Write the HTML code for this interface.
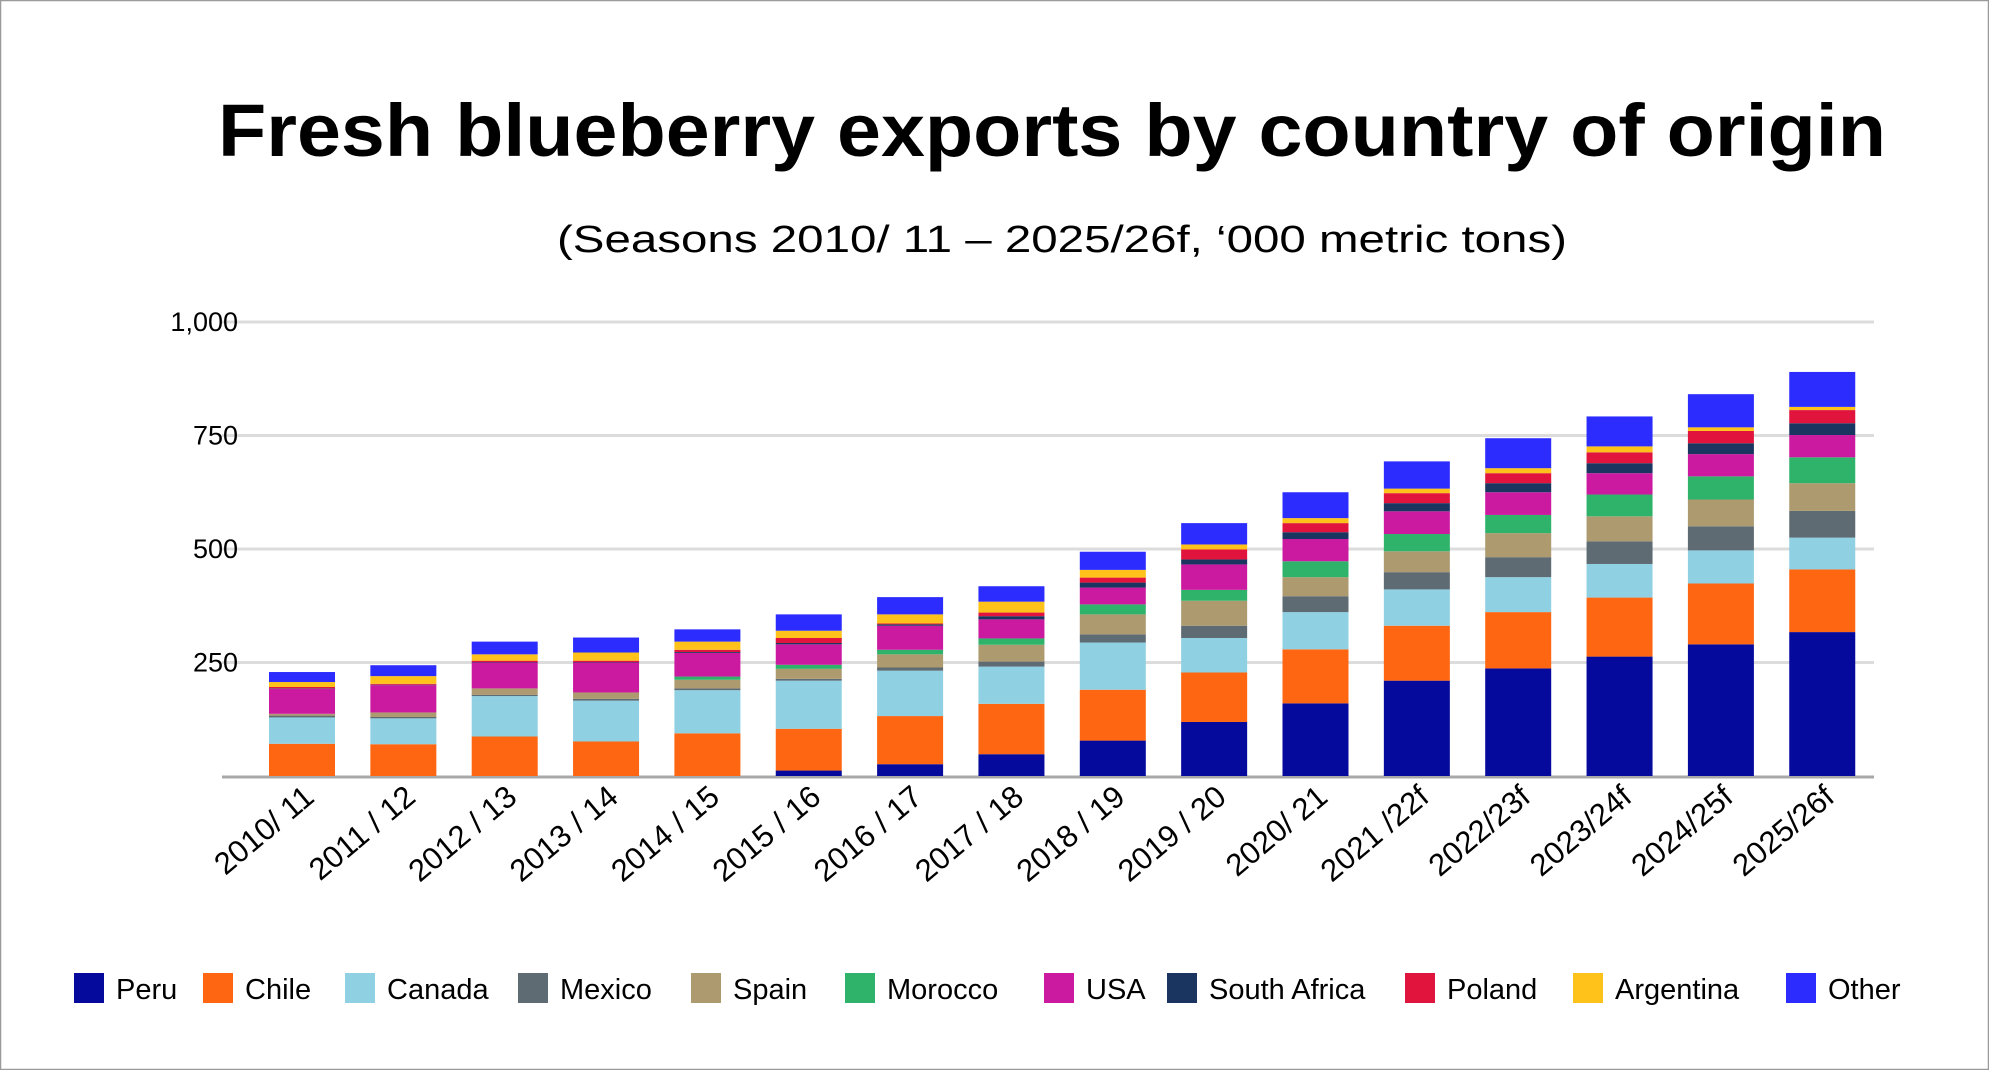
<!DOCTYPE html>
<html><head><meta charset="utf-8"><style>
html,body{margin:0;padding:0;background:#fff}
svg{display:block}
text{font-family:"Liberation Sans",sans-serif;fill:#000}
</style></head><body>
<svg id="chart" width="1989" height="1070" viewBox="0 0 1989 1070" xmlns="http://www.w3.org/2000/svg">
<rect x="0.5" y="0.5" width="1988" height="1069" fill="#fff" stroke="#9a9a9a" stroke-width="1.5"/>
<text x="1052" y="156" font-size="74" font-weight="bold" text-anchor="middle" textLength="1668" lengthAdjust="spacingAndGlyphs">Fresh blueberry exports by country of origin</text>
<text x="1062" y="252" font-size="38" text-anchor="middle" textLength="1010" lengthAdjust="spacingAndGlyphs">(Seasons 2010/ 11  – 2025/26f, ‘000 metric tons)</text>
<g id="grid"></g><g id="bars"></g><g id="xlabels"></g><g id="legend"></g>
</svg>
<script>
const seasons = ["2010/ 11","2011 / 12","2012 / 13","2013 / 14","2014 / 15","2015 / 16","2016 / 17","2017 / 18","2018 / 19","2019 / 20","2020/ 21","2021 /22f","2022/23f","2023/24f","2024/25f","2025/26f"];
const peru      = [0,0,0,0,0,12,26,48,78,119,160,210,237,263,290,317];
const chile     = [71,70,87,76,94,92,106,111,112,109,119,121,124,130,134,138];
const canada    = [58,57,89,90,95,106,100,82,104,76,82,80,77,74,73,70];
const mexico    = [4,3,3,4,4,4,7,11,18,27,35,38,44,50,53,59];
const spain     = [4,10,14,14,19,22,29,37,44,55,42,46,53,55,59,61];
const morocco   = [0,0,0,0,7,9,10,14,22,24,35,38,40,48,51,57];
const usa       = [55,60,57,66,52,45,53,42,37,56,49,50,50,47,49,49];
const southAfrica = [1,1,1,1,2,3,3,7,11,11,15,18,20,22,24,26];
const poland    = [3,2,3,3,5,11,2,8,11,22,20,22,22,24,27,29];
const argentina = [11,17,14,18,18,16,20,24,17,11,11,10,11,13,8,7];
const other     = [22,24,28,33,27,36,38,34,40,47,57,60,66,66,73,77];
const yTicks = [250,500,750,1000];
const yTickLabels = ["250","500","750","1,000"];
const seriesNames = ["Peru","Chile","Canada","Mexico","Spain","Morocco","USA","South Africa","Poland","Argentina","Other"];

const seriesData=[peru,chile,canada,mexico,spain,morocco,usa,southAfrica,poland,argentina,other];
const colors=["#050a9c","#ff6611","#8fd0e3","#5f6b73","#ad9a6e","#2fb36a","#cc1aa0","#1a3560","#e0143c","#ffc21a","#2c2cff"];
const NS="http://www.w3.org/2000/svg";
const y0=776, pxPerUnit=0.454, plotL=222, plotR=1874, firstC=302, step=101.35, bw=66;
const yScale=v=>y0-v*pxPerUnit;
const xScale=i=>firstC+i*step;
function mk(tag,attrs,parent){const e=document.createElementNS(NS,tag);for(const k in attrs)e.setAttribute(k,attrs[k]);parent.appendChild(e);return e;}
const grid=document.getElementById('grid');
yTicks.forEach((t,i)=>{
  const l=mk('line',{x1:plotL,x2:plotR,y1:yScale(t),y2:yScale(t),stroke:'#dcdcdc','stroke-width':3},grid);
  
  
  const tx=mk('text',{x:238,y:yScale(t)+9,'font-size':27,'text-anchor':'end'},grid);
  tx.textContent=yTickLabels[i];
  
  
});
const base=mk('line',{x1:plotL,x2:plotR,y1:y0+1,y2:y0+1,stroke:'#a8a8a8','stroke-width':3},grid);


const bars=document.getElementById('bars');
seasons.forEach((s,i)=>{
  let cum=0;
  seriesData.forEach((arr,k)=>{
    const v=arr[i]; if(v<=0) return;
    const r=mk('rect',{x:xScale(i)-bw/2,y:yScale(cum+v),width:bw,height:v*pxPerUnit,fill:colors[k]},bars);
    
    
    cum+=v;
  });
});
const xl=document.getElementById('xlabels');
seasons.forEach((s,i)=>{
  const x=xScale(i)+14, y=800;
  const t=mk('text',{x:x,y:y,'font-size':31,'text-anchor':'end',transform:`rotate(-40 ${x} ${y})`},xl);
  t.textContent=s;
  
  
});
const lg=document.getElementById('legend');
const legX=[74,203,345,518,691,845,1044,1167,1405,1573,1786];
seriesNames.forEach((n,k)=>{
  const g=mk('g',{},lg);
  
  
  mk('rect',{x:legX[k],y:973,width:30,height:30,fill:colors[k]},g);
  const t=mk('text',{x:legX[k]+42,y:999,'font-size':29},g);
  t.textContent=n;
});
</script>
</body></html>
